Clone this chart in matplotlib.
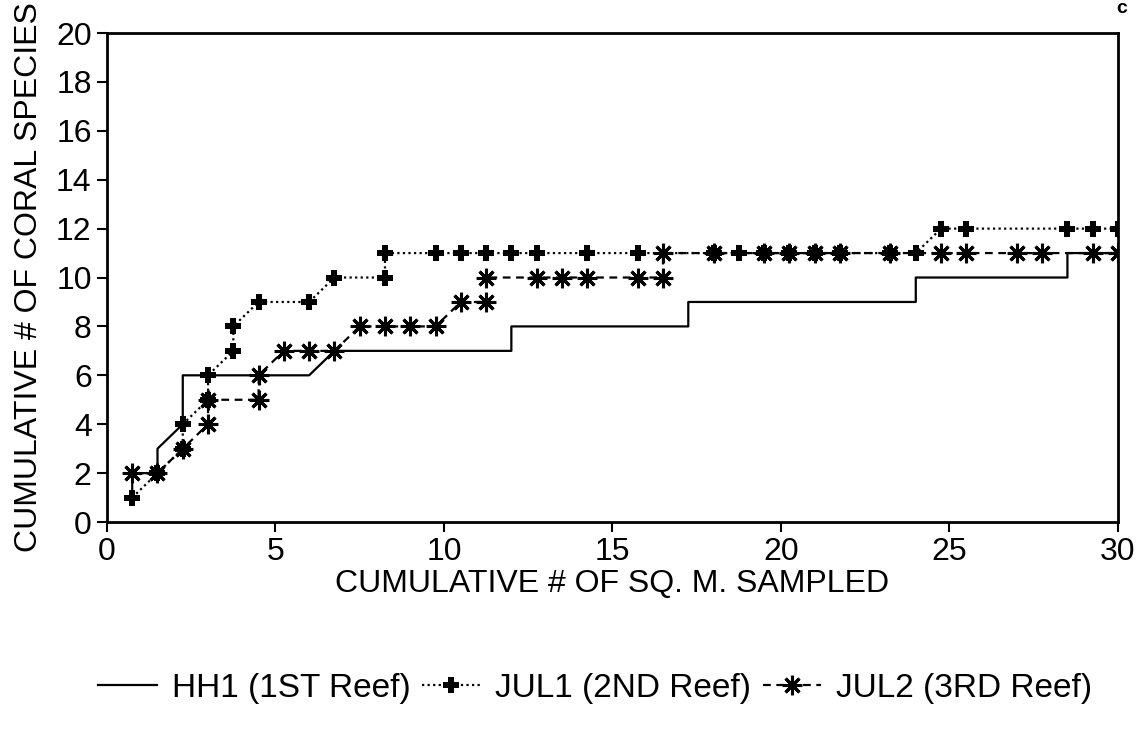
import matplotlib.pyplot as plt

plt.rcParams['font.family'] = ['Liberation Sans', 'DejaVu Sans']

# HH1 (1ST Reef)
hh1_x = [0.75, 0.75, 1.5, 1.5, 2.25, 2.25, 6.0, 6.75, 12.0, 12.0, 17.25, 17.25, 24.0, 24.0, 28.5, 28.5, 30.0]
hh1_y = [1, 2, 2, 3, 4, 6, 6, 7, 7, 8, 8, 9, 9, 10, 10, 11, 11]

# JUL1 (2ND Reef)
jul1_x = [0.75, 1.5, 2.25, 2.25, 3.0, 3.0, 3.75, 3.75, 4.5, 6.0, 6.75, 8.25, 8.25, 9.75, 10.5,
          11.25, 12.0, 12.75, 14.25, 15.75, 18.0, 18.75, 19.5, 20.25, 21.0, 21.75, 23.25, 24.0,
          24.75, 25.5, 28.5, 29.25, 30.0]
jul1_y = [1, 2, 3, 4, 5, 6, 7, 8, 9, 9, 10, 10, 11, 11, 11,
          11, 11, 11, 11, 11, 11, 11, 11, 11, 11, 11, 11, 11,
          12, 12, 12, 12, 12]

# JUL2 (3RD Reef)
jul2_x = [0.75, 1.5, 2.25, 3.0, 3.0, 4.5, 4.5, 5.25, 6.0, 6.75, 7.5, 8.25, 9.0, 9.75, 10.5,
          11.25, 11.25, 12.75, 13.5, 14.25, 15.75, 16.5, 16.5, 18.0, 19.5, 20.25, 21.0, 21.75,
          23.25, 24.75, 25.5, 27.0, 27.75, 29.25, 30.0]
jul2_y = [2, 2, 3, 4, 5, 5, 6, 7, 7, 7, 8, 8, 8, 8, 9,
          9, 10, 10, 10, 10, 10, 10, 11, 11, 11, 11, 11, 11,
          11, 11, 11, 11, 11, 11, 11]

fig = plt.figure(figsize=(11.45, 7.37), dpi=100)
ax = fig.add_axes([0.0934, 0.2917, 0.883, 0.6635])

ax.plot(hh1_x, hh1_y, color='black', lw=1.6, ls='-', label='HH1 (1ST Reef)')
ax.plot(jul1_x, jul1_y, color='black', lw=1.6, ls=(0, (1, 1.5)), marker='P', ms=12,
        mew=0, label='JUL1 (2ND Reef)')
ax.plot(jul2_x, jul2_y, color='black', lw=1.6, ls=(0, (3.5, 2.5)), marker=(8, 2, 0), ms=14,
        mew=2.2, label='JUL2 (3RD Reef)')

ax.set_xlim(0, 30)
ax.set_ylim(0, 20)
ax.set_xticks([0, 5, 10, 15, 20, 25, 30])
ax.set_yticks(range(0, 21, 2))
ax.tick_params(direction='out', length=7, width=1.5, labelsize=23, pad=4)
for s in ax.spines.values():
    s.set_linewidth(2)

ax.set_xlabel('CUMULATIVE # OF SQ. M. SAMPLED', fontsize=23, labelpad=1)
ax.set_ylabel('CUMULATIVE # OF CORAL SPECIES', fontsize=23, labelpad=9)

fig.text(0.9795, 0.989, 'c', fontsize=14, fontweight='bold', ha='center', va='center')

fig.legend(loc='center', bbox_to_anchor=(0.52, 0.066), ncol=3, frameon=False,
           fontsize=24, handlelength=1.75, columnspacing=0.35, handletextpad=0.45)

fig.savefig('out.png', dpi=100)
